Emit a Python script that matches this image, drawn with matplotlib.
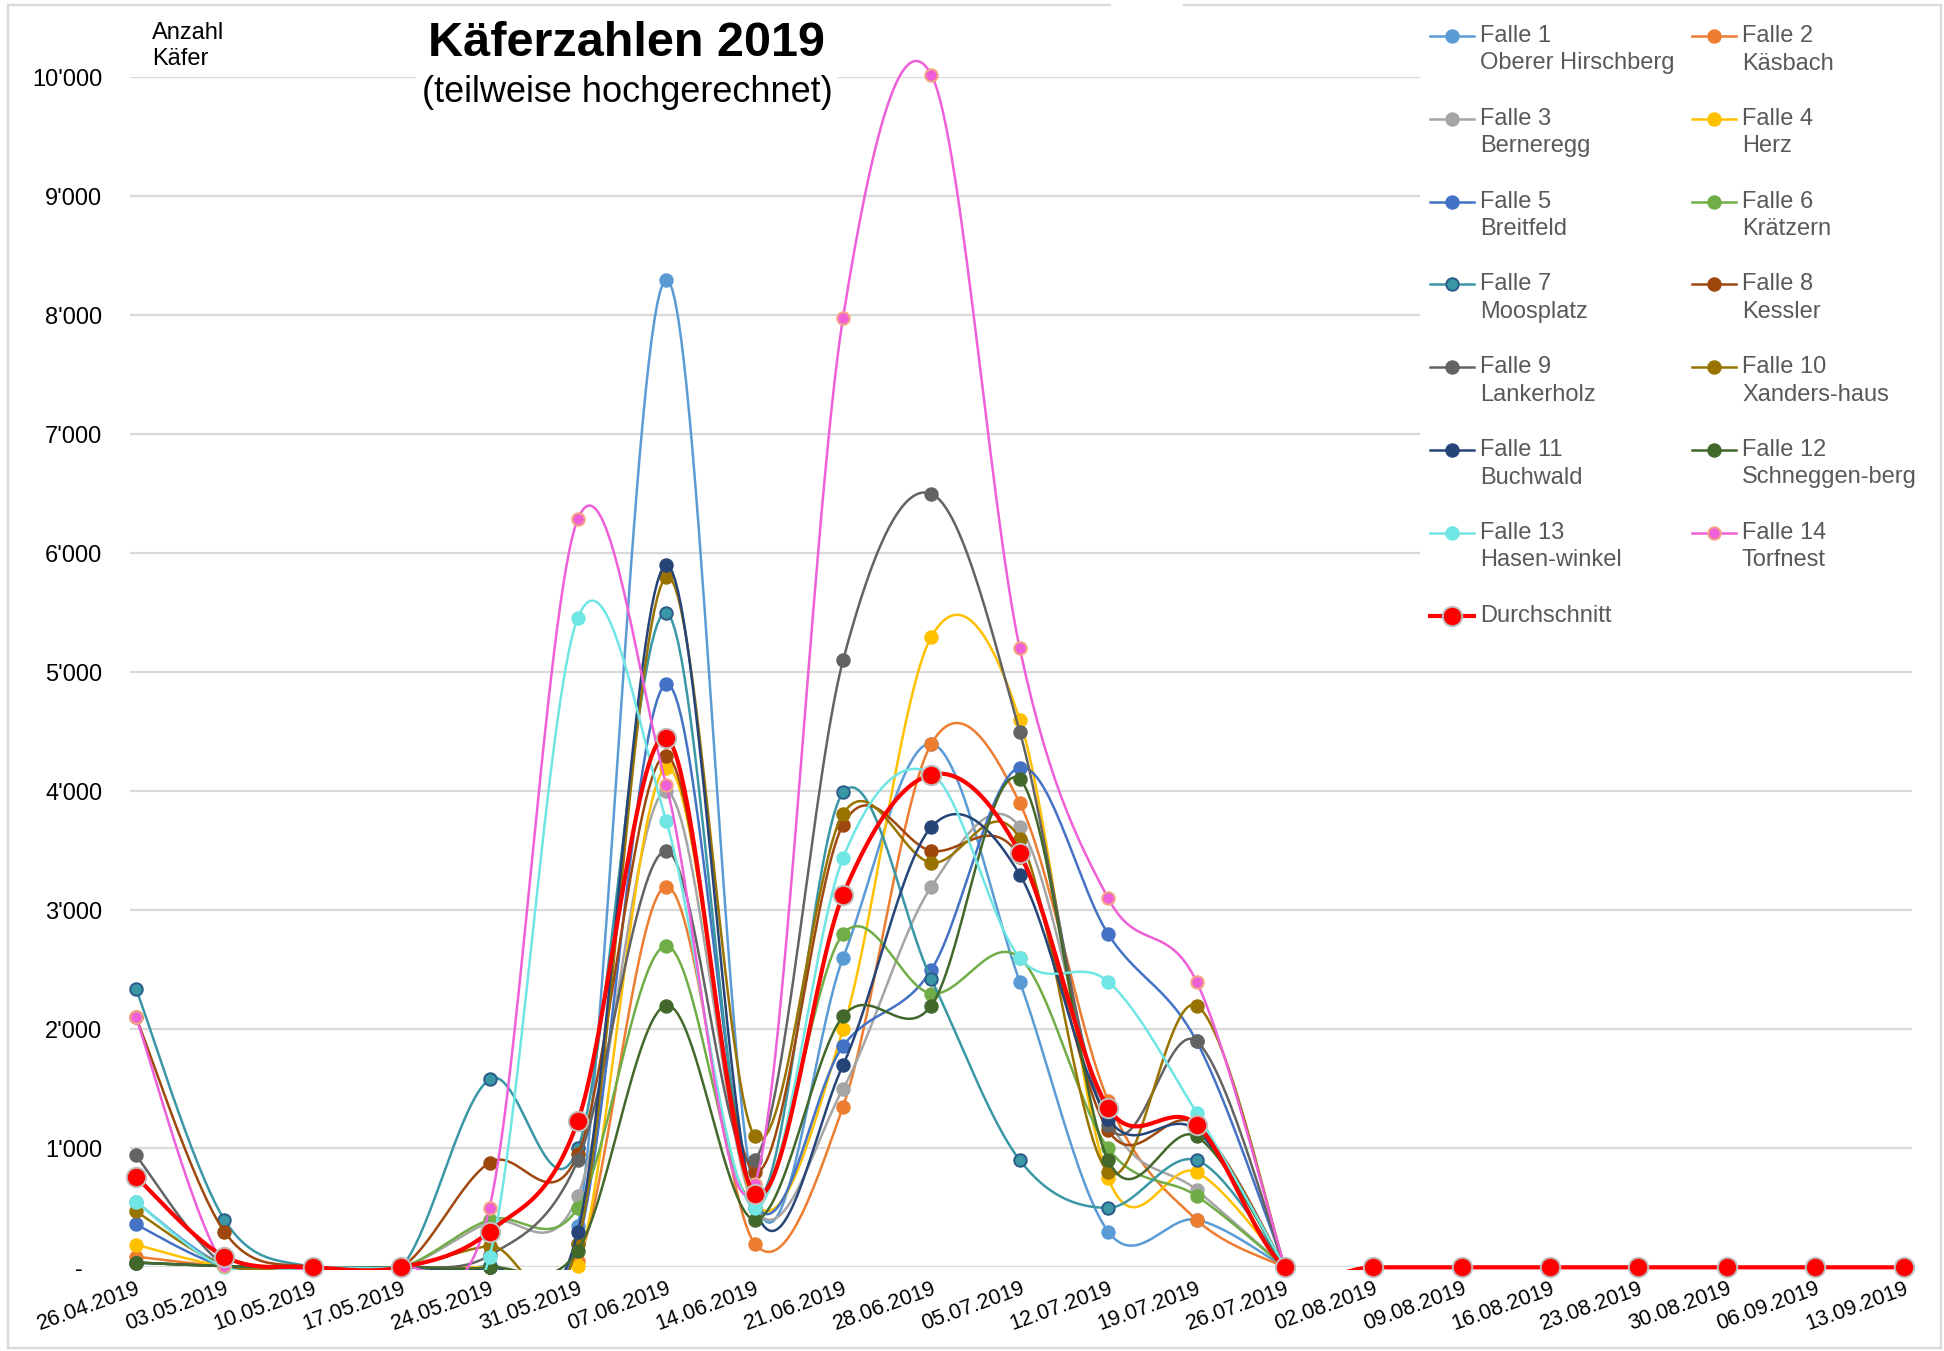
import numpy as np
import matplotlib
matplotlib.use('Agg')
import matplotlib.pyplot as plt
from matplotlib.lines import Line2D
from matplotlib.patches import Rectangle

plt.rcParams['font.family'] = ['Liberation Sans', 'DejaVu Sans']

# dates (weekly)
dates = ['26.04.2019', '03.05.2019', '10.05.2019', '17.05.2019', '24.05.2019',
         '31.05.2019', '07.06.2019', '14.06.2019', '21.06.2019', '28.06.2019',
         '05.07.2019', '12.07.2019', '19.07.2019', '26.07.2019', '02.08.2019',
         '09.08.2019', '16.08.2019', '23.08.2019', '30.08.2019', '06.09.2019',
         '13.09.2019']

# trap counts, 26.04 - 26.07
f1 = [550, 20, 0, 0, 20, 350, 8300, 600, 2600, 4400, 2400, 300, 400, 0]
f2 = [90, 10, 0, 0, 0, 50, 3200, 200, 1350, 4400, 3900, 1400, 400, 0]
f3 = [40, 10, 0, 0, 380, 600, 4000, 500, 1500, 3200, 3700, 1250, 650, 0]
f4 = [190, 10, 0, 0, 0, 10, 4200, 550, 2000, 5300, 4600, 750, 800, 0]
f5 = [360, 10, 0, 0, 0, 200, 4900, 550, 1860, 2500, 4200, 2800, 1900, 0]
f6 = [40, 10, 0, 0, 400, 500, 2700, 550, 2800, 2300, 2600, 1000, 600, 0]
f7 = [2340, 400, 0, 0, 1580, 1000, 5500, 600, 3990, 2420, 900, 500, 900, 0]
f8 = [2100, 300, 0, 0, 880, 950, 4300, 800, 3720, 3500, 3450, 1150, 1200, 0]
f9 = [940, 20, 0, 0, 100, 900, 3500, 900, 5100, 6500, 4500, 1200, 1900, 0]
f10 = [470, 20, 0, 0, 180, 200, 5800, 1100, 3810, 3400, 3600, 800, 2200, 0]
f11 = [40, 10, 0, 0, 0, 300, 5900, 500, 1700, 3700, 3300, 1250, 1150, 0]
f12 = [40, 10, 0, 0, 0, 140, 2200, 400, 2110, 2200, 4100, 900, 1100, 0]
f13 = [550, 0, 0, 0, 90, 5460, 3750, 500, 3440, 4150, 2600, 2400, 1300, 0]
f14 = [2100, 10, 0, 0, 500, 6290, 4050, 700, 7980, 10020, 5200, 3100, 2400, 0]
avg = [760, 90, 0, 0, 300, 1230, 4450, 620, 3130, 4140, 3480, 1340, 1200, 0,
       0, 0, 0, 0, 0, 0, 0]

names = ['Falle 1\nOberer Hirschberg', 'Falle 2\nKäsbach', 'Falle 3\nBerneregg',
         'Falle 4\nHerz', 'Falle 5\nBreitfeld', 'Falle 6\nKrätzern',
         'Falle 7\nMoosplatz', 'Falle 8\nKessler', 'Falle 9\nLankerholz',
         'Falle 10\nXanders-haus', 'Falle 11\nBuchwald', 'Falle 12\nSchneggen-berg',
         'Falle 13\nHasen-winkel', 'Falle 14\nTorfnest', 'Durchschnitt']
series = [f1, f2, f3, f4, f5, f6, f7, f8, f9, f10, f11, f12, f13, f14]

colors = ['#5B9BD5', '#ED7D31', '#A5A5A5', '#FFC000', '#4472C4', '#70AD47',
          '#3A97A6', '#9E480E', '#636363', '#997300', '#264478', '#43682B',
          '#6FE6E4', '#EE5FD8']
edges = list(colors)
edges[6] = '#2B5C8A'
edges[13] = '#F4A582'


def smooth(x, y, steps=30):
    # Excel-like smoothed line (cubic bezier through points)
    P = np.column_stack([np.asarray(x, float), np.asarray(y, float)])
    n = len(P)
    t = np.linspace(0, 1, steps + 1)[1:, None]
    out = [P[:1]]
    for i in range(n - 1):
        p0, p1, p2, p3 = P[max(i - 1, 0)], P[i], P[i + 1], P[min(i + 2, n - 1)]
        c1 = p1 + (p2 - p0) / 6
        c2 = p2 - (p3 - p1) / 6
        seg = ((1 - t) ** 3 * p1 + 3 * (1 - t) ** 2 * t * c1
               + 3 * (1 - t) * t ** 2 * c2 + t ** 3 * p2)
        out.append(seg)
    out = np.vstack(out)
    return out[:, 0], out[:, 1]


W, H = 1944, 1351
fig = plt.figure(figsize=(W / 100, H / 100), dpi=100)
x0, x1 = 130, 1912
y0, y1 = 1267.3, 77.3
ax = fig.add_axes([x0 / W, (H - y0) / H, (x1 - x0) / W, (y0 - y1) / H])

step = (1903.6 - 136) / 20
xl = ((x0 - 136) / step, (x1 - 136) / step)
ax.set_xlim(*xl)
ax.set_ylim(0, 10000)

# lines are cut just under the zero line like in the plot area of the original
clip = Rectangle((xl[0], -25), xl[1] - xl[0], 20000, transform=ax.transData)


def draw(vals, c, ec, lw, ms, z):
    xi = np.arange(len(vals))
    sx, sy = smooth(xi, vals)
    ln, = ax.plot(sx, sy, color=c, lw=lw, zorder=z, solid_capstyle='round')
    ln.set_clip_path(clip)
    ax.plot(xi, vals, ls='none', marker='o', ms=ms, mfc=c, mec=ec, mew=1.4,
            clip_on=False, zorder=z)


for vals, c, ec in zip(series, colors, edges):
    draw(vals, c, ec, 1.8, 9, 3)
draw(avg, '#FF0000', '#BFBFBF', 3.0, 14, 4)

ax.set_yticks(np.arange(0, 10001, 1000))
ax.set_yticklabels(['-   '] + ["{:,}".format(v).replace(',', "'")
                                for v in range(1000, 10001, 1000)])
ax.set_xticks(np.arange(len(dates)))
ax.set_xticklabels(dates, rotation=20, ha='right', va='top',
                   rotation_mode='anchor')
ax.tick_params(axis='y', length=0, pad=20, labelsize=17)
ax.tick_params(axis='x', length=0, pad=8, labelsize=15.5)
ax.yaxis.grid(True, color='#D9D9D9', lw=1.6)
ax.set_axisbelow(True)
for s in ax.spines.values():
    s.set_visible(False)

# outer frame
fc = '#D9D9D9'
for xs, ys in [([8, 1110], [5, 5]), ([1184, 1941], [5, 5]), ([8, 8], [5, 1348]),
               ([1941, 1941], [5, 1348]), ([8, 1941], [1348, 1348])]:
    fig.add_artist(Line2D([v / W for v in xs], [1 - v / H for v in ys],
                          color=fc, lw=1.6))

# titles
fig.text(626 / W, 1 - 43 / H, 'Käferzahlen 2019', ha='center', va='center',
         fontsize=35, fontweight='bold')
fig.text(627 / W, 1 - 92 / H, '(teilweise hochgerechnet)', ha='center',
         va='center', fontsize=26,
         bbox=dict(facecolor='white', edgecolor='none', pad=4))
fig.text(152 / W, 1 - 22 / H, 'Anzahl\nKäfer', ha='left', va='top', fontsize=17,
         linespacing=1.25)

# legend
fig.add_artist(Rectangle((1420 / W, 1 - 638 / H), (1940 - 1420) / W, 630 / H,
                         facecolor='white', edgecolor='none'))
leg_colors = colors + ['#FF0000']
leg_edges = edges + ['#BFBFBF']
for k, name in enumerate(names):
    r, c = divmod(k, 2)
    lx = 1430 if c == 0 else 1692
    yy = 36 + r * 82.8
    fy = 1 - yy / H
    col = leg_colors[k]
    big = k == 14
    fig.add_artist(Line2D([lx / W, (lx + 44) / W], [fy, fy], color=col,
                          lw=3.0 if big else 1.8))
    fig.add_artist(Line2D([(lx + 22) / W], [fy], marker='o',
                          ms=14 if big else 9, mfc=col, mec=leg_edges[k],
                          mew=1.4, ls='none'))
    for j, s in enumerate(name.split('\n')):
        fig.text((lx + 50) / W, 1 - (yy + j * 27.5) / H, s, ha='left',
                 va='center', fontsize=17, color='#595959')

fig.savefig('out.png', dpi=100)
